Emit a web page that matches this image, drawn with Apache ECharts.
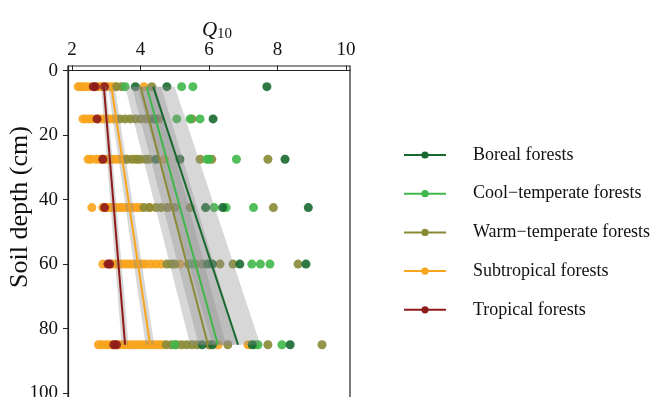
<!DOCTYPE html>
<html>
<head>
<meta charset="utf-8">
<script src="https://cdn.jsdelivr.net/npm/echarts@6/dist/echarts.min.js"></script>
<style>
  html, body { margin: 0; padding: 0; background: #fff; }
  #chart { width: 654px; height: 397px; }
</style>
</head>
<body>
<div id="chart"></div>
<script>
// soil layer mid-depths (cm)
const depths = [5, 15, 27.5, 42.5, 60, 85];
const xTicks = [2, 4, 6, 8, 10];
const yTicks = [0, 20, 40, 60, 80, 100];

// observed Q10 per layer, one list per depth
const borealQ10 = [
  [3.85, 4.77, 7.69],
  [4.4, 6.12],
  [4.45, 5.15, 8.22],
  [5.9, 6.4, 8.9],
  [5.95, 6.1, 6.9, 8.83],
  [5.8, 6.1, 7.26, 8.37]
];
const coolQ10 = [
  [3.55, 5.2, 5.53],
  [5.06, 5.45, 5.74],
  [5.94, 6.0, 6.8],
  [6.15, 6.5, 7.3],
  [5.5, 7.25, 7.5, 7.78],
  [5.0, 7.34, 7.43, 8.13]
];
const warmQ10 = [
  [3.3, 3.45, 4.33],
  [3.4, 3.55, 3.7, 3.85, 4.0, 4.15, 4.3, 4.45, 4.55, 5.5],
  [3.6, 3.75, 3.9, 4.0, 4.15, 4.25, 5.74, 6.08, 7.72],
  [4.1, 4.25, 4.45, 4.6, 4.8, 5.0, 5.45, 7.88],
  [4.77, 4.9, 5.0, 5.4, 5.6, 5.8, 6.32, 6.7, 8.6],
  [4.75, 4.9, 5.05, 5.2, 5.35, 5.5, 5.65, 6.0, 6.55, 7.72, 9.3]
];
const subtropQ10 = [
  [2.18, 2.25, 2.32, 2.4, 2.5, 2.78, 2.85, 2.95, 3.05, 3.15, 3.25, 4.1],
  [2.32, 2.4, 2.5, 2.6, 2.78, 2.9, 3.0, 3.1, 3.2, 3.3],
  [2.47, 2.55, 2.7, 2.8, 2.9, 3.0, 3.1, 3.2, 3.3, 3.4, 3.5, 3.6, 3.85, 4.7],
  [2.58, 2.9, 3.0, 3.1, 3.2, 3.3, 3.4, 3.5, 3.6, 3.7, 3.8, 3.9, 4.0, 4.28, 4.77],
  [2.9, 3.15, 3.25, 3.35, 3.45, 3.55, 3.65, 3.75, 3.85, 3.95, 4.05, 4.15, 4.3, 4.45, 4.6, 5.15],
  [2.77, 2.85, 2.95, 3.05, 3.15, 3.25, 3.35, 3.45, 3.55, 3.65, 3.75, 3.85, 3.95, 4.05, 4.15, 4.25, 4.35, 4.45, 4.55, 4.65, 6.03, 6.27, 7.14]
];
const tropQ10 = [
  [2.62, 2.68, 2.95],
  [2.73],
  [2.9],
  [2.95],
  [3.05, 3.1],
  [3.22, 3.3]
];

// fitted lines: Q10 at top (5 cm) and bottom (85 cm)
const fitDepths = [5, 85];
const borealFit = [4.37, 6.85];
const coolFit = [4.18, 6.26];
const warmFit = [4.0, 5.97];
const subtropFit = [3.15, 4.28];
const tropFit = [2.93, 3.55];

// confidence bands: [left, right] at 5 cm, [left, right] at 85 cm
const borealBand = [3.9, 5.0, 6.1, 7.5];
const coolBand = [3.75, 4.6, 5.7, 6.85];
const warmBand = [3.55, 4.45, 5.45, 6.5];
const subtropBand = [3.05, 3.25, 4.15, 4.4];
const tropBand = [2.85, 3.0, 3.45, 3.65];

const FONT = '"Liberation Serif", "DejaVu Serif", serif';

const groups = [
  { name: 'Boreal forests', color: '#17692f', pts: borealQ10, fit: borealFit, band: borealBand },
  { name: 'Cool\u2212temperate forests', color: '#3fb74a', pts: coolQ10, fit: coolFit, band: coolBand },
  { name: 'Warm\u2212temperate forests', color: '#8a8a36', pts: warmQ10, fit: warmFit, band: warmBand },
  { name: 'Subtropical forests', color: '#f8a41d', pts: subtropQ10, fit: subtropFit, band: subtropBand },
  { name: 'Tropical forests', color: '#8e1b1b', pts: tropQ10, fit: tropFit, band: tropBand }
];

const toPoints = rows => depths.flatMap((d, i) => rows[i].map(q => [q, d]));

const lineSeries = groups.map(g => ({
  name: g.name,
  type: 'line',
  data: g.fit.map((q, i) => [q, fitDepths[i]]),
  symbol: 'circle',
  symbolSize: 7,
  showSymbol: false,
  lineStyle: { color: g.color, width: 2 },
  itemStyle: { color: g.color },
  z: 5,
  silent: true
}));

const bandSeries = groups.map(g => ({
  name: g.name + ' band',
  type: 'custom',
  data: [g.band],
  z: 4,
  silent: true,
  renderItem: (params, api) => {
    const pts = [
      api.coord([api.value(0), fitDepths[0]]),
      api.coord([api.value(1), fitDepths[0]]),
      api.coord([api.value(3), fitDepths[1]]),
      api.coord([api.value(2), fitDepths[1]])
    ];
    return { type: 'polygon', shape: { points: pts }, style: { fill: 'rgba(140,140,140,0.35)' } };
  }
}));

// draw order of the points: subtropical first, then the rest on top
const scatterOrder = [3, 4, 2, 1, 0];
const scatterSeries = scatterOrder.map(i => ({
  name: groups[i].name + ' pts',
  type: 'scatter',
  data: toPoints(groups[i].pts),
  symbolSize: 9,
  itemStyle: { color: groups[i].color, opacity: 0.9 },
  z: 3,
  silent: true
}));

const chart = echarts.init(document.getElementById('chart'));
chart.setOption({
  animation: false,
  backgroundColor: '#fff',
  title: {
    text: '{q|Q}{s|10}',
    left: 212,
    top: 13,
    textAlign: 'center',
    textStyle: {
      fontWeight: 'normal',
      rich: {
        q: { fontFamily: FONT, fontStyle: 'italic', fontWeight: 'normal', fontSize: 21, color: '#111', lineHeight: 24 },
        s: { fontFamily: FONT, fontWeight: 'normal', fontSize: 15, color: '#111', verticalAlign: 'bottom', padding: [8, 0, 0, 0] }
      }
    }
  },
  graphic: [{
    type: 'text',
    x: 20,
    y: 207,
    rotation: Math.PI / 2,
    style: {
      text: 'Soil depth (cm)',
      font: '26px ' + FONT,
      fill: '#111',
      align: 'center',
      verticalAlign: 'middle'
    }
  }],
  legend: {
    orient: 'vertical',
    left: 398,
    top: 140,
    itemWidth: 42,
    itemHeight: 9,
    itemGap: 18.7,
    data: groups.map(g => g.name),
    textStyle: { fontFamily: FONT, fontSize: 18, color: '#111', lineHeight: 20, padding: [0, 0, 0, 22] }
  },
  grid: {
    left: 68,
    top: 66,
    width: 282,
    height: 340,
    outerBoundsMode: 'none',
    show: true,
    borderColor: '#222',
    borderWidth: 1.2
  },
  xAxis: {
    type: 'value',
    position: 'top',
    min: 1.883,
    max: 10.117,
    splitLine: { show: false },
    axisLine: { lineStyle: { color: '#222', width: 1.2 } },
    axisTick: { length: 5, customValues: xTicks, lineStyle: { color: '#222' } },
    axisLabel: { customValues: xTicks, margin: 6, fontFamily: FONT, fontSize: 19, color: '#111' }
  },
  yAxis: {
    type: 'value',
    inverse: true,
    min: -1.4,
    max: 104,
    splitLine: { show: false },
    axisLine: { lineStyle: { color: '#222', width: 1.2 } },
    axisTick: { length: 5, customValues: yTicks, lineStyle: { color: '#222' } },
    axisLabel: { customValues: yTicks, margin: 10, fontFamily: FONT, fontSize: 19, color: '#111' }
  },
  series: [...lineSeries, ...scatterSeries, ...bandSeries]
});
</script>
</body>
</html>
